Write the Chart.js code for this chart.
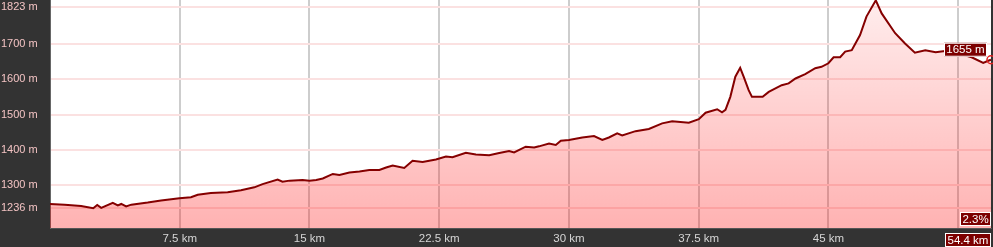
<!DOCTYPE html>
<html>
<head>
<meta charset="utf-8">
<script src="https://cdn.jsdelivr.net/npm/chart.js@4"></script>
<style>
  html, body { margin: 0; padding: 0; background: #333; }
  #wrap { width: 993px; height: 247px; }
</style>
</head>
<body>
<div id="wrap"><canvas id="chart" width="993" height="247"></canvas></div>
<script>
// profile: distance (km) and elevation (m)
var distKm = [0, 0.85, 1.8, 2.5, 2.73, 2.96, 3.63, 3.92, 4.12, 4.4, 4.7, 5.65, 6.42, 7.48, 8.15, 8.54,
  9.3, 10.27, 11.04, 11.81, 12.29, 13.16, 13.44, 13.85, 14.6, 15.0, 15.39, 15.77, 16.35, 16.73, 17.31,
  17.89, 18.46, 19.04, 19.43, 19.81, 20.48, 20.96, 21.54, 22.31, 22.89, 23.27, 24.04, 24.62, 25.39,
  25.97, 26.54, 26.83, 27.5, 27.99, 28.27, 28.85, 29.24, 29.53, 30.0, 30.77, 31.45, 31.93, 32.31,
  32.79, 33.08, 33.85, 34.62, 35.39, 35.97, 36.93, 37.51, 37.9, 38.57, 38.85, 39.05, 39.33, 39.62,
  39.9, 40.1, 40.39, 40.58, 41.2, 41.55, 42.3, 42.7, 43.1, 43.66, 44.24, 44.6, 45.0, 45.3, 45.68,
  45.97, 46.35, 46.83, 47.2, 47.74, 48.08, 48.86, 49.43, 50.0, 50.6, 51.2, 51.74, 52.5, 53.28,
  53.95, 54.24, 54.4];
var elevM = [1247, 1245, 1241, 1235, 1244, 1236, 1250, 1243, 1247, 1240, 1245, 1251, 1257, 1263, 1266, 1273,
  1278, 1280, 1286, 1294, 1303, 1316, 1310, 1313, 1315, 1313, 1315, 1319, 1332, 1329, 1336,
  1339, 1343, 1343, 1350, 1356, 1349, 1369, 1366, 1373, 1381, 1379, 1392, 1387, 1385,
  1391, 1397, 1393, 1409, 1407, 1410, 1418, 1414, 1426, 1428, 1435, 1439, 1428, 1435,
  1447, 1441, 1453, 1459, 1475, 1481, 1477, 1487, 1505, 1515, 1506, 1513, 1550, 1607,
  1632, 1607, 1569, 1550, 1550, 1564, 1583, 1588, 1602, 1614, 1631, 1635, 1645, 1662, 1662,
  1678, 1682, 1725, 1777, 1823, 1786, 1730, 1701, 1675, 1682, 1676, 1680, 1673, 1662,
  1646, 1652, 1655];
var lastGrade = '2.3%';

var yTickValues = [1236, 1300, 1400, 1500, 1600, 1700, 1823];
var yTickLabels = ['1236 m', '1300 m', '1400 m', '1500 m', '1600 m', '1700 m', '1823 m'];
var xTickValues = [7.5, 15, 22.5, 30, 37.5, 45, 52.5];
var xTickLabels = ['7.5 km', '15 km', '22.5 km', '30 km', '37.5 km', '45 km', ''];

var points = distKm.map(function (d, i) { return { x: d, y: elevM[i] }; });
var lastIdx = points.length - 1;

Chart.defaults.font.family = '"Liberation Sans", Arial, sans-serif';
Chart.defaults.font.size = 11;

// dark page, white plot area, end-point boxes
var frame = {
  id: 'frame',
  beforeDraw: function (chart) {
    var c = chart.ctx, a = chart.chartArea;
    c.save();
    c.fillStyle = '#333';
    c.fillRect(0, 0, chart.width, chart.height);
    c.fillStyle = '#fff';
    c.fillRect(a.left, a.top, a.right - a.left, a.bottom - a.top);
    c.restore();
  },
  afterDraw: function (chart) {
    var c = chart.ctx, a = chart.chartArea;
    var p = chart.getDatasetMeta(0).data[lastIdx];
    function box(text, right, bottom) {
      c.font = '11.5px "Liberation Sans", Arial, sans-serif';
      var w = Math.round(c.measureText(text).width) + 5, h = 14;
      var x = right - w, y = bottom - h;
      c.fillStyle = '#7d0000';
      c.fillRect(x, y, w, h);
      c.strokeStyle = '#fff';
      c.lineWidth = 1;
      c.strokeRect(x + 0.5, y + 0.5, w - 1, h - 1);
      c.fillStyle = '#fff';
      c.textAlign = 'center';
      c.textBaseline = 'middle';
      c.fillText(text, x + w / 2, y + h / 2 + 0.5);
    }
    c.save();
    box(elevM[lastIdx] + ' m', a.right - 4, p.y - 3);
    box(lastGrade, a.right, a.bottom - 2);
    box(distKm[lastIdx] + ' km', a.right, chart.height);
    c.restore();
  }
};

var ctx = document.getElementById('chart').getContext('2d');
var myChart = new Chart(ctx, {
  type: 'line',
  data: {
    datasets: [{
      data: points,
      borderColor: '#850000',
      borderWidth: 2,
      tension: 0,
      fill: 'start',
      clip: 5,
      backgroundColor: function (context) {
        var a = context.chart.chartArea;
        if (!a) return 'rgba(255,0,0,0.2)';
        var g = context.chart.ctx.createLinearGradient(0, a.top, 0, a.bottom);
        g.addColorStop(0, 'rgba(255,0,0,0.07)');
        g.addColorStop(1, 'rgba(255,0,0,0.3)');
        return g;
      },
      pointRadius: points.map(function (p, i) { return i === lastIdx ? 4 : 0; }),
      pointBorderColor: '#e02020',
      pointBackgroundColor: 'rgba(255,255,255,0)',
      pointBorderWidth: 1.5
    }]
  },
  options: {
    responsive: false,
    animation: false,
    events: [],
    layout: { autoPadding: false, padding: { left: 1, right: 2, top: 0, bottom: 0 } },
    plugins: { legend: { display: false }, tooltip: { enabled: false } },
    scales: {
      x: {
        type: 'linear',
        min: 0,
        max: 54.4,
        afterBuildTicks: function (scale) {
          scale.ticks = xTickValues.map(function (v) { return { value: v }; });
        },
        afterFit: function (scale) {
          scale.height = 19;
          scale.paddingLeft = 0;
          scale.paddingRight = 0;
        },
        grid: { color: '#cdcdcd', lineWidth: 2, drawTicks: false },
        border: { display: true, color: '#555', width: 1 },
        ticks: {
          autoSkip: false,
          maxRotation: 0,
          padding: 4,
          color: '#d6d6d6',
          font: { size: 11.5 },
          callback: function (v, i) { return xTickLabels[i]; }
        }
      },
      y: {
        min: 1179,
        max: 1824,
        afterBuildTicks: function (scale) {
          // the top label sits a little below the plot edge
          scale.ticks = yTickValues.map(function (v, i) {
            return { value: i === yTickValues.length - 1 ? v - 20 : v };
          });
        },
        afterFit: function (scale) {
          scale.width = 49;
          scale.paddingTop = 0;
          scale.paddingBottom = 0;
        },
        grid: { color: '#fbe1e1', lineWidth: 2, drawTicks: false },
        border: { display: true, color: '#666', width: 1 },
        ticks: {
          autoSkip: false,
          crossAlign: 'far',
          padding: 0,
          color: '#f3c3c3',
          callback: function (v, i) { return yTickLabels[i]; }
        }
      }
    }
  },
  plugins: [frame]
});
</script>
</body>
</html>
